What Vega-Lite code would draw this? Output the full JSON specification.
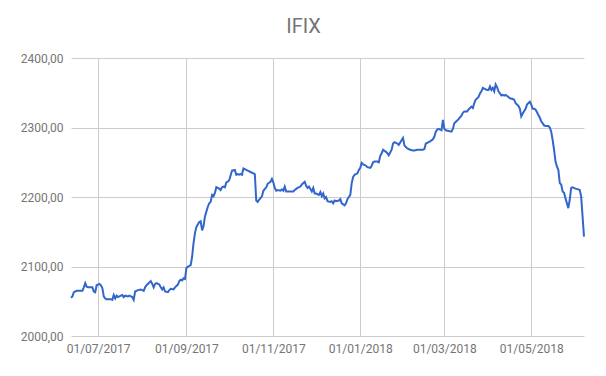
{
  "$schema": "https://vega.github.io/schema/vega-lite/v6.json",
  "width": 513,
  "height": 278,
  "autosize": {"type": "none"},
  "padding": {"left": 71, "top": 58, "right": 22, "bottom": 40},
  "background": "white",
  "title": {"text": "IFIX", "anchor": "middle", "dx": -24, "dy": 15, "offset": 14, "baseline": "alphabetic", "font": "Roboto", "fontSize": 20, "fontWeight": "normal", "color": "#757575"},
  "config": {
    "view": {"stroke": null},
    "axis": {"grid": true, "gridColor": "#cccccc", "gridWidth": 1, "ticks": false, "domain": false, "labelFont": "Roboto", "labelFontSize": 12, "labelColor": "#757575", "title": null}
  },
  "data": {"values": [
    {"date":"2017-06-12","value":2055},{"date":"2017-06-13","value":2057},{"date":"2017-06-14","value":2063},{"date":"2017-06-16","value":2065},{"date":"2017-06-20","value":2065},{"date":"2017-06-21","value":2070},{"date":"2017-06-22","value":2076},{"date":"2017-06-23","value":2071},{"date":"2017-06-24","value":2070},{"date":"2017-06-26","value":2070},{"date":"2017-06-27","value":2070},{"date":"2017-06-28","value":2064},{"date":"2017-06-29","value":2063},{"date":"2017-06-30","value":2073},
    {"date":"2017-07-02","value":2075},{"date":"2017-07-03","value":2073},{"date":"2017-07-04","value":2069},{"date":"2017-07-05","value":2057},{"date":"2017-07-06","value":2054},{"date":"2017-07-07","value":2053},{"date":"2017-07-10","value":2053},{"date":"2017-07-11","value":2052},{"date":"2017-07-12","value":2059},{"date":"2017-07-13","value":2054},{"date":"2017-07-14","value":2058},{"date":"2017-07-15","value":2056},{"date":"2017-07-17","value":2058},{"date":"2017-07-18","value":2059},{"date":"2017-07-19","value":2056},{"date":"2017-07-20","value":2058},{"date":"2017-07-22","value":2057},{"date":"2017-07-23","value":2058},{"date":"2017-07-25","value":2056},{"date":"2017-07-26","value":2052},{"date":"2017-07-27","value":2064},{"date":"2017-07-29","value":2066},{"date":"2017-07-31","value":2067},
    {"date":"2017-08-02","value":2065},{"date":"2017-08-03","value":2070},{"date":"2017-08-04","value":2073},{"date":"2017-08-06","value":2077},{"date":"2017-08-07","value":2079},{"date":"2017-08-08","value":2075},{"date":"2017-08-09","value":2070},{"date":"2017-08-10","value":2075},{"date":"2017-08-11","value":2076},{"date":"2017-08-13","value":2074},{"date":"2017-08-14","value":2070},{"date":"2017-08-15","value":2067},{"date":"2017-08-16","value":2070},{"date":"2017-08-17","value":2064},{"date":"2017-08-19","value":2063},{"date":"2017-08-20","value":2066},{"date":"2017-08-21","value":2068},{"date":"2017-08-23","value":2067},{"date":"2017-08-24","value":2070},{"date":"2017-08-26","value":2074},{"date":"2017-08-27","value":2079},{"date":"2017-08-28","value":2081},{"date":"2017-08-29","value":2080},{"date":"2017-08-30","value":2083},{"date":"2017-08-31","value":2082},
    {"date":"2017-09-01","value":2098},{"date":"2017-09-03","value":2101},{"date":"2017-09-04","value":2102},{"date":"2017-09-05","value":2114},{"date":"2017-09-06","value":2134},{"date":"2017-09-07","value":2148},{"date":"2017-09-08","value":2157},{"date":"2017-09-10","value":2164},{"date":"2017-09-11","value":2165},{"date":"2017-09-12","value":2152},{"date":"2017-09-13","value":2158},{"date":"2017-09-14","value":2172},{"date":"2017-09-15","value":2179},{"date":"2017-09-16","value":2186},{"date":"2017-09-17","value":2191},{"date":"2017-09-18","value":2193},{"date":"2017-09-19","value":2203},{"date":"2017-09-20","value":2201},{"date":"2017-09-21","value":2206},{"date":"2017-09-22","value":2214},{"date":"2017-09-23","value":2213},{"date":"2017-09-24","value":2212},{"date":"2017-09-25","value":2210},{"date":"2017-09-26","value":2214},{"date":"2017-09-27","value":2215},{"date":"2017-09-28","value":2214},{"date":"2017-09-29","value":2221},{"date":"2017-09-30","value":2222},
    {"date":"2017-10-01","value":2224},{"date":"2017-10-02","value":2231},{"date":"2017-10-03","value":2238},{"date":"2017-10-05","value":2239},{"date":"2017-10-06","value":2232},{"date":"2017-10-07","value":2233},{"date":"2017-10-08","value":2232},{"date":"2017-10-09","value":2233},{"date":"2017-10-10","value":2232},{"date":"2017-10-11","value":2241},{"date":"2017-10-12","value":2240},{"date":"2017-10-14","value":2238},{"date":"2017-10-16","value":2236},{"date":"2017-10-18","value":2234},{"date":"2017-10-19","value":2233},{"date":"2017-10-20","value":2195},{"date":"2017-10-21","value":2193},{"date":"2017-10-22","value":2196},{"date":"2017-10-24","value":2201},{"date":"2017-10-25","value":2209},{"date":"2017-10-27","value":2214},{"date":"2017-10-28","value":2219},{"date":"2017-10-30","value":2222},{"date":"2017-10-31","value":2226},
    {"date":"2017-11-01","value":2221},{"date":"2017-11-02","value":2213},{"date":"2017-11-03","value":2209},{"date":"2017-11-04","value":2210},{"date":"2017-11-06","value":2209},{"date":"2017-11-07","value":2211},{"date":"2017-11-08","value":2209},{"date":"2017-11-09","value":2215},{"date":"2017-11-10","value":2208},{"date":"2017-11-11","value":2208},{"date":"2017-11-13","value":2208},{"date":"2017-11-15","value":2208},{"date":"2017-11-16","value":2210},{"date":"2017-11-18","value":2213},{"date":"2017-11-20","value":2215},{"date":"2017-11-21","value":2218},{"date":"2017-11-23","value":2222},{"date":"2017-11-24","value":2216},{"date":"2017-11-25","value":2213},{"date":"2017-11-26","value":2215},{"date":"2017-11-28","value":2208},{"date":"2017-11-29","value":2213},{"date":"2017-11-30","value":2205},
    {"date":"2017-12-01","value":2205},{"date":"2017-12-03","value":2203},{"date":"2017-12-04","value":2207},{"date":"2017-12-05","value":2201},{"date":"2017-12-06","value":2205},{"date":"2017-12-07","value":2198},{"date":"2017-12-08","value":2200},{"date":"2017-12-09","value":2194},{"date":"2017-12-11","value":2193},{"date":"2017-12-12","value":2194},{"date":"2017-12-13","value":2191},{"date":"2017-12-14","value":2195},{"date":"2017-12-15","value":2194},{"date":"2017-12-17","value":2195},{"date":"2017-12-18","value":2197},{"date":"2017-12-19","value":2191},{"date":"2017-12-21","value":2188},{"date":"2017-12-22","value":2191},{"date":"2017-12-23","value":2197},{"date":"2017-12-25","value":2203},{"date":"2017-12-26","value":2220},{"date":"2017-12-27","value":2229},{"date":"2017-12-28","value":2232},{"date":"2017-12-30","value":2234},{"date":"2017-12-31","value":2239},
    {"date":"2018-01-01","value":2242},{"date":"2018-01-02","value":2249},{"date":"2018-01-03","value":2247},{"date":"2018-01-05","value":2245},{"date":"2018-01-06","value":2243},{"date":"2018-01-08","value":2242},{"date":"2018-01-09","value":2245},{"date":"2018-01-10","value":2250},{"date":"2018-01-11","value":2251},{"date":"2018-01-13","value":2251},{"date":"2018-01-14","value":2250},{"date":"2018-01-15","value":2259},{"date":"2018-01-16","value":2263},{"date":"2018-01-17","value":2268},{"date":"2018-01-19","value":2265},{"date":"2018-01-20","value":2263},{"date":"2018-01-21","value":2260},{"date":"2018-01-23","value":2268},{"date":"2018-01-24","value":2277},{"date":"2018-01-25","value":2279},{"date":"2018-01-27","value":2277},{"date":"2018-01-28","value":2275},{"date":"2018-01-31","value":2285},
    {"date":"2018-02-01","value":2274},{"date":"2018-02-03","value":2270},{"date":"2018-02-05","value":2268},{"date":"2018-02-07","value":2267},{"date":"2018-02-08","value":2267},{"date":"2018-02-10","value":2268},{"date":"2018-02-12","value":2268},{"date":"2018-02-14","value":2268},{"date":"2018-02-15","value":2269},{"date":"2018-02-16","value":2277},{"date":"2018-02-18","value":2279},{"date":"2018-02-19","value":2280},{"date":"2018-02-21","value":2283},{"date":"2018-02-22","value":2287},{"date":"2018-02-23","value":2294},{"date":"2018-02-24","value":2297},{"date":"2018-02-25","value":2298},{"date":"2018-02-27","value":2296},{"date":"2018-02-28","value":2311},
    {"date":"2018-03-01","value":2298},{"date":"2018-03-02","value":2296},{"date":"2018-03-04","value":2295},{"date":"2018-03-06","value":2294},{"date":"2018-03-07","value":2298},{"date":"2018-03-08","value":2306},{"date":"2018-03-10","value":2310},{"date":"2018-03-11","value":2312},{"date":"2018-03-13","value":2317},{"date":"2018-03-14","value":2321},{"date":"2018-03-15","value":2323},{"date":"2018-03-17","value":2323},{"date":"2018-03-18","value":2326},{"date":"2018-03-20","value":2330},{"date":"2018-03-21","value":2328},{"date":"2018-03-22","value":2335},{"date":"2018-03-23","value":2340},{"date":"2018-03-25","value":2344},{"date":"2018-03-26","value":2349},{"date":"2018-03-27","value":2352},{"date":"2018-03-28","value":2357},{"date":"2018-03-30","value":2355},{"date":"2018-03-31","value":2354},
    {"date":"2018-04-01","value":2354},{"date":"2018-04-02","value":2359},{"date":"2018-04-03","value":2354},{"date":"2018-04-04","value":2357},{"date":"2018-04-05","value":2352},{"date":"2018-04-06","value":2362},{"date":"2018-04-07","value":2358},{"date":"2018-04-08","value":2352},{"date":"2018-04-10","value":2346},{"date":"2018-04-11","value":2347},{"date":"2018-04-12","value":2346},{"date":"2018-04-13","value":2347},{"date":"2018-04-15","value":2344},{"date":"2018-04-16","value":2342},{"date":"2018-04-18","value":2341},{"date":"2018-04-19","value":2340},{"date":"2018-04-20","value":2335},{"date":"2018-04-21","value":2333},{"date":"2018-04-22","value":2331},{"date":"2018-04-23","value":2327},{"date":"2018-04-24","value":2316},{"date":"2018-04-25","value":2320},{"date":"2018-04-27","value":2327},{"date":"2018-04-28","value":2333},{"date":"2018-04-30","value":2337},
    {"date":"2018-05-01","value":2333},{"date":"2018-05-02","value":2327},{"date":"2018-05-03","value":2327},{"date":"2018-05-04","value":2326},{"date":"2018-05-06","value":2318},{"date":"2018-05-07","value":2314},{"date":"2018-05-08","value":2309},{"date":"2018-05-10","value":2303},{"date":"2018-05-11","value":2302},{"date":"2018-05-13","value":2302},{"date":"2018-05-14","value":2300},{"date":"2018-05-15","value":2294},{"date":"2018-05-16","value":2282},{"date":"2018-05-17","value":2268},{"date":"2018-05-18","value":2251},{"date":"2018-05-19","value":2244},{"date":"2018-05-20","value":2239},{"date":"2018-05-21","value":2220},{"date":"2018-05-22","value":2218},{"date":"2018-05-23","value":2208},{"date":"2018-05-24","value":2206},{"date":"2018-05-25","value":2198},{"date":"2018-05-26","value":2191},{"date":"2018-05-27","value":2184},{"date":"2018-05-28","value":2196},{"date":"2018-05-29","value":2213},{"date":"2018-05-30","value":2214},
    {"date":"2018-06-01","value":2212},{"date":"2018-06-03","value":2211},{"date":"2018-06-04","value":2210},{"date":"2018-06-05","value":2201},{"date":"2018-06-06","value":2172},{"date":"2018-06-07","value":2143}
  ]},
  "mark": {"type": "line", "color": "#3366cc", "strokeWidth": 2, "interpolate": "linear"},
  "encoding": {
    "x": {
      "field": "date", "type": "temporal",
      "scale": {"type": "utc", "nice": false, "domain": [{"year": 2017, "month": 6, "date": 12, "utc": true}, {"year": 2018, "month": 6, "date": 7, "utc": true}]},
      "axis": {
        "values": [
          {"year": 2017, "month": 7, "date": 1, "utc": true},
          {"year": 2017, "month": 9, "date": 1, "utc": true},
          {"year": 2017, "month": 11, "date": 1, "utc": true},
          {"year": 2018, "month": 1, "date": 1, "utc": true},
          {"year": 2018, "month": 3, "date": 1, "utc": true},
          {"year": 2018, "month": 5, "date": 1, "utc": true}
        ],
        "format": "%d/%m/%Y", "labelPadding": 7, "labelFlush": false, "labelOverlap": false
      }
    },
    "y": {
      "field": "value", "type": "quantitative",
      "scale": {"domain": [2000, 2400], "nice": false, "zero": false},
      "axis": {"values": [2000, 2100, 2200, 2300, 2400], "labelExpr": "replace(format(datum.value, '.2f'), '.', ',')", "labelPadding": 8}
    }
  }
}
